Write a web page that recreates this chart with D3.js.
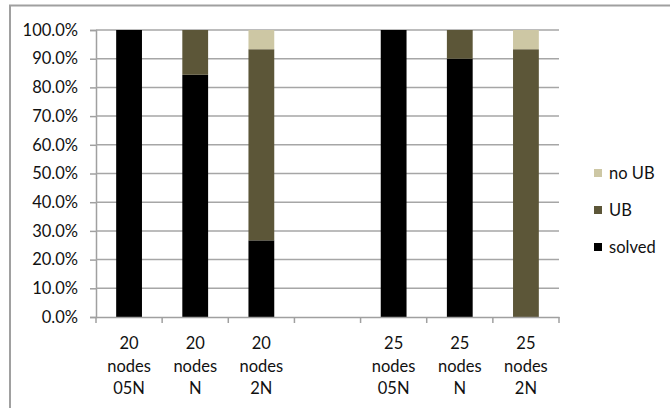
<!DOCTYPE html>
<html>
<head>
<meta charset="utf-8">
<script src="https://cdn.jsdelivr.net/npm/d3@7"></script>
<style>
  body { margin: 0; background: #fff; }
  text { font-family: Lato, "Open Sans", sans-serif; fill: #111; }
</style>
</head>
<body>
<script>
// categories (blank slot in the middle separates the two groups)
var categories = ["20 nodes 05N", "20 nodes N", "20 nodes 2N", "", "25 nodes 05N", "25 nodes N", "25 nodes 2N"];
var keys = ["solved", "UB", "noUB"];
var legendLabels = ["no UB", "UB", "solved"];
var solved = [1.0, 0.844, 0.267, 0, 1.0, 0.90, 0.0];
var ub     = [0.0, 0.156, 0.666, 0, 0.0, 0.10, 0.933];
var noUB   = [0.0, 0.0,   0.067, 0, 0.0, 0.0,  0.067];
var yTicks = [0, 0.1, 0.2, 0.3, 0.4, 0.5, 0.6, 0.7, 0.8, 0.9, 1.0];
var colors = {solved: "#000000", UB: "#5c5638", noUB: "#cdc7a4"};

var width = 670, height = 408;
var margin = {left: 96, right: 111, top: 30, bottom: 91};
var w = width - margin.left - margin.right;
var h = height - margin.top - margin.bottom;
var fs = "16.5px";

var rows = categories.map(function(c, i){
  return {cat: c, i: i, solved: solved[i], UB: ub[i], noUB: noUB[i]};
});

var svg = d3.select("body").append("svg").attr("width", width).attr("height", height);

// outer frame (top and left edges visible)
svg.append("path").attr("d", "M10,408 L10,5.5 L670,5.5")
  .attr("fill", "none").attr("stroke", "#a0a0a0").attr("stroke-width", 2);

var g = svg.append("g").attr("transform", "translate(" + margin.left + "," + margin.top + ")");

var x = d3.scaleBand().domain(d3.range(categories.length)).range([0, w]).paddingInner(0).paddingOuter(0);
var y = d3.scaleLinear().domain([0, 1]).range([h, 0]);

// gridlines + y axis
var yAxis = d3.axisLeft(y).tickValues(yTicks).tickFormat(d3.format(".1%")).tickSize(6).tickPadding(12);
var ya = g.append("g").call(yAxis);
ya.select(".domain").attr("stroke", "#a0a0a0").attr("stroke-width", 1.5);
ya.selectAll(".tick line").attr("stroke", "#a0a0a0").attr("stroke-width", 1.5);
ya.selectAll(".tick text").style("font-size", fs).attr("fill", "#111");

g.append("g").selectAll("line").data(yTicks.filter(function(d){ return d > 0; })).join("line")
  .attr("x1", 0).attr("x2", w).attr("y1", function(d){ return y(d); }).attr("y2", function(d){ return y(d); })
  .attr("stroke", "#a6a6a6").attr("stroke-width", 1.5);

// bars
var stack = d3.stack().keys(keys);
var series = stack(rows);
var bw = x.bandwidth() * 0.39;

g.append("g").selectAll("g").data(series).join("g")
  .attr("fill", function(d){ return colors[d.key]; })
  .selectAll("rect").data(function(d){ return d; }).join("rect")
  .attr("x", function(d){ return x(d.data.i) + (x.bandwidth() - bw) / 2; })
  .attr("width", bw)
  .attr("y", function(d){ return y(d[1]); })
  .attr("height", function(d){ return y(d[0]) - y(d[1]); });

// x axis
var xa = g.append("g").attr("transform", "translate(0," + h + ")")
  .call(d3.axisBottom(x).tickValues([]).tickSizeOuter(0));
xa.select(".domain").attr("stroke", "#a0a0a0").attr("stroke-width", 1.5);
g.append("g").selectAll("line").data(d3.range(categories.length + 1)).join("line")
  .attr("x1", function(d){ return d * x.step(); }).attr("x2", function(d){ return d * x.step(); })
  .attr("y1", h).attr("y2", h + 6).attr("stroke", "#a0a0a0").attr("stroke-width", 1.5);

var labels = g.append("g").selectAll("text").data(rows.filter(function(d){ return d.cat; })).join("text")
  .attr("text-anchor", "middle")
  .attr("x", function(d){ return x(d.i) + x.bandwidth() / 2; })
  .attr("y", h + 32)
  .style("font-size", fs);
labels.selectAll("tspan").data(function(d){
    var p = d.cat.split(" ");
    return [p[0], p[1], p[2]];
  }).join("tspan")
  .attr("x", function(){ return this.parentNode.getAttribute("x"); })
  .attr("dy", function(d, i){ return i === 0 ? 0 : 22.5; })
  .text(function(d){ return d; });

// legend
var legKeys = ["noUB", "UB", "solved"];
var leg = svg.append("g").selectAll("g").data(legKeys).join("g")
  .attr("transform", function(d, i){ return "translate(594," + (173 + i * 37) + ")"; });
leg.append("rect").attr("x", 0).attr("y", -4).attr("width", 8).attr("height", 8)
  .attr("fill", function(d){ return colors[d]; });
leg.append("text").attr("x", 15).attr("dy", "0.35em").style("font-size", fs)
  .text(function(d, i){ return legendLabels[i]; });
</script>
</body>
</html>
